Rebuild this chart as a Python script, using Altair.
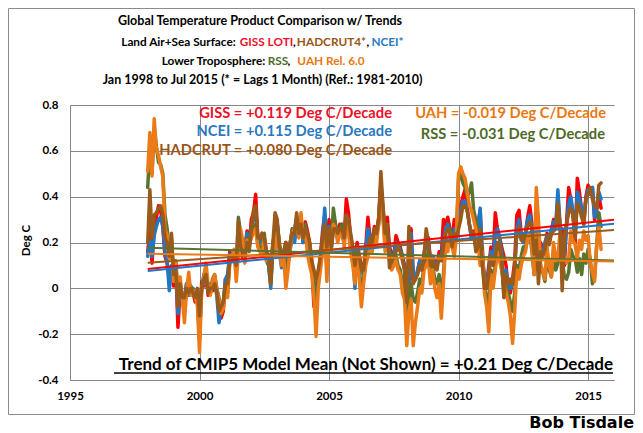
import altair as alt
import pandas as pd

# ---------------- data (monthly anomalies, deg C, ref 1981-2010) ----------------
start_year = 1998
series_names = ["GISS", "NCEI", "HADCRUT", "RSS", "UAH"]
series_colors = ["#FF0000", "#1F77C8", "#9C5A1A", "#587430", "#EB7A17"]
draw_order = ["GISS", "NCEI", "RSS", "UAH", "HADCRUT"]

giss = [
    0.16, 0.25, 0.11, 0.26, 0.31, 0.36, 0.34, 0.27, 0.14, 0.11, 0.04, 0.09,
    0.01, 0.10, -0.17, -0.01, -0.05, -0.05, 0.02, -0.03, -0.01, -0.02, -0.06, -0.03,
    -0.22, 0.03, 0.01, 0.06, -0.03, 0.00, -0.01, 0.02, -0.01, -0.08, -0.13, -0.10,
    0.04, 0.03, 0.16, 0.14, 0.15, 0.11, 0.18, 0.23, 0.13, 0.17, 0.25, 0.19,
    0.30, 0.33, 0.41, 0.22, 0.21, 0.24, 0.22, 0.16, 0.14, 0.06, 0.20, 0.24,
    0.28, 0.19, 0.12, 0.16, 0.20, 0.11, 0.19, 0.26, 0.22, 0.30, 0.25, 0.31,
    0.20, 0.29, 0.25, 0.20, 0.12, -0.08, 0.02, 0.04, 0.14, 0.25, 0.32, 0.18,
    0.30, 0.18, 0.28, 0.27, 0.24, 0.28, 0.25, 0.22, 0.39, 0.33, 0.22, 0.18,
    0.12, 0.20, 0.14, 0.10, 0.06, 0.18, 0.31, 0.22, 0.20, 0.27, 0.24, 0.31,
    0.45, 0.35, 0.22, 0.31, 0.18, 0.15, 0.14, 0.23, 0.20, 0.18, 0.14, 0.10,
    -0.19, 0.00, 0.26, 0.06, 0.04, 0.07, 0.12, 0.08, 0.15, 0.20, 0.22, 0.12,
    0.14, 0.12, 0.10, 0.16, 0.14, 0.30, 0.28, 0.31, 0.26, 0.20, 0.30, 0.24,
    0.30, 0.36, 0.40, 0.43, 0.35, 0.28, 0.22, 0.25, 0.20, 0.28, 0.34, 0.14,
    0.04, 0.02, 0.10, 0.18, 0.12, 0.33, 0.26, 0.22, 0.18, 0.14, 0.10, -0.02,
    -0.02, 0.04, 0.12, 0.32, 0.34, 0.24, 0.20, 0.24, 0.31, 0.36, 0.28, 0.10,
    0.22, 0.18, 0.20, 0.16, 0.18, 0.24, 0.20, 0.25, 0.30, 0.26, 0.40, 0.26,
    0.26, 0.10, 0.28, 0.44, 0.39, 0.32, 0.20, 0.48, 0.42, 0.34, 0.28, 0.40,
    0.45, 0.42, 0.44, 0.30, 0.34, 0.40, 0.35,
]

ncei = [
    0.14, 0.21, 0.14, 0.23, 0.27, 0.30, 0.31, 0.27, 0.16, 0.12, -0.01, 0.10,
    0.04, 0.08, -0.11, 0.00, -0.04, -0.04, 0.02, -0.03, 0.01, -0.02, -0.04, -0.06,
    -0.13, 0.01, 0.02, 0.05, -0.02, 0.02, 0.00, 0.02, -0.03, -0.15, -0.10, -0.06,
    0.04, 0.06, 0.15, 0.14, 0.15, 0.13, 0.18, 0.22, 0.16, 0.17, 0.24, 0.19,
    0.27, 0.30, 0.35, 0.21, 0.20, 0.23, 0.20, 0.12, 0.10, 0.00, 0.18, 0.22,
    0.24, 0.16, 0.09, 0.14, 0.18, 0.12, 0.17, 0.22, 0.20, 0.27, 0.23, 0.28,
    0.20, 0.26, 0.22, 0.18, 0.10, 0.00, -0.02, 0.05, 0.13, 0.22, 0.35, 0.17,
    0.27, 0.17, 0.25, 0.26, 0.22, 0.26, 0.23, 0.20, 0.32, 0.28, 0.20, 0.16,
    0.00, 0.18, 0.12, 0.10, 0.06, 0.16, 0.26, 0.22, 0.20, 0.25, 0.24, 0.28,
    0.42, 0.33, 0.22, 0.26, 0.16, 0.14, 0.14, 0.20, 0.18, 0.17, 0.14, 0.08,
    -0.17, 0.02, 0.24, 0.06, 0.04, 0.08, 0.12, 0.08, 0.14, 0.20, 0.20, 0.12,
    0.14, 0.10, 0.10, 0.14, 0.14, 0.20, 0.26, 0.28, 0.24, 0.20, 0.26, 0.22,
    0.28, 0.34, 0.38, 0.38, 0.34, 0.28, 0.22, 0.24, 0.18, 0.26, 0.35, 0.14,
    0.02, 0.00, 0.08, 0.16, 0.10, 0.24, 0.26, 0.22, 0.16, -0.04, 0.08, 0.02,
    0.00, 0.02, 0.08, 0.26, 0.30, 0.22, 0.20, 0.24, 0.30, 0.32, 0.26, 0.10,
    0.21, 0.14, 0.17, 0.15, 0.20, 0.23, 0.21, 0.26, 0.29, 0.27, 0.43, 0.28,
    0.11, 0.14, 0.27, 0.37, 0.40, 0.33, 0.23, 0.42, 0.39, 0.35, 0.30, 0.39,
    0.43, 0.41, 0.44, 0.31, 0.35, 0.42, 0.39,
]

hadcrut = [
    0.20, 0.43, 0.22, 0.32, 0.33, 0.35, 0.36, 0.32, 0.22, 0.20, 0.14, 0.24,
    0.06, 0.08, -0.08, 0.02, -0.04, -0.04, 0.00, -0.02, 0.00, -0.02, -0.04, 0.00,
    -0.12, 0.00, 0.04, 0.06, -0.02, 0.00, 0.00, 0.02, -0.02, -0.10, -0.08, -0.06,
    0.02, 0.02, 0.12, 0.12, 0.14, 0.10, 0.29, 0.18, 0.16, 0.14, 0.20, 0.16,
    0.26, 0.34, 0.36, 0.22, 0.22, 0.24, 0.22, 0.16, 0.14, 0.02, 0.20, 0.33,
    0.30, 0.18, 0.14, 0.16, 0.20, 0.14, 0.20, 0.24, 0.24, 0.33, 0.24, 0.28,
    0.22, 0.26, 0.24, 0.20, 0.12, 0.08, 0.04, 0.08, 0.14, 0.22, 0.28, 0.18,
    0.26, 0.18, 0.26, 0.26, 0.24, 0.26, 0.26, 0.22, 0.32, 0.30, 0.24, 0.18,
    0.10, 0.18, 0.14, 0.08, 0.08, 0.18, 0.18, 0.22, 0.20, 0.26, 0.24, 0.30,
    0.51, 0.36, 0.24, 0.28, 0.09, 0.14, 0.14, 0.16, 0.18, 0.16, 0.12, 0.08,
    -0.06, 0.27, 0.10, 0.02, 0.04, 0.06, 0.10, 0.08, 0.14, 0.26, 0.20, 0.10,
    0.12, 0.10, 0.08, 0.14, 0.12, 0.18, 0.24, 0.26, 0.24, 0.18, 0.24, 0.22,
    0.26, 0.30, 0.36, 0.36, 0.34, 0.28, 0.24, 0.24, 0.16, 0.18, 0.26, 0.10,
    0.00, 0.00, 0.06, 0.14, 0.10, 0.14, 0.20, 0.20, 0.12, -0.04, 0.06, 0.02,
    0.04, 0.02, 0.10, 0.24, 0.27, 0.21, 0.21, 0.24, 0.27, 0.29, 0.26, 0.15,
    0.21, 0.02, 0.16, 0.14, 0.17, 0.22, 0.19, 0.24, 0.25, 0.26, 0.37, 0.28,
    -0.01, 0.22, 0.28, 0.33, 0.35, 0.32, 0.22, 0.37, 0.35, 0.31, 0.28, 0.39,
    0.41, 0.44, 0.39, 0.36, 0.35, 0.45, 0.46,
]

rss = [
    0.44, 0.62, 0.50, 0.70, 0.62, 0.55, 0.54, 0.50, 0.32, 0.26, 0.16, 0.22,
    0.04, 0.12, -0.02, 0.02, -0.04, -0.10, 0.00, 0.04, -0.02, 0.00, -0.04, -0.06,
    -0.20, 0.00, 0.06, 0.08, 0.00, -0.02, 0.04, 0.06, 0.00, -0.04, -0.10, -0.06,
    0.00, -0.02, 0.12, 0.14, 0.16, 0.08, 0.31, 0.24, 0.18, 0.14, 0.22, 0.18,
    0.24, 0.26, 0.28, 0.20, 0.18, 0.16, 0.24, 0.14, 0.10, 0.02, 0.20, 0.18,
    0.28, 0.20, 0.12, 0.16, 0.06, 0.10, 0.20, 0.26, 0.26, 0.30, 0.24, 0.28,
    0.24, 0.28, 0.18, 0.14, 0.08, 0.02, -0.10, 0.04, 0.10, 0.18, 0.26, 0.10,
    0.26, 0.18, 0.35, 0.28, 0.24, 0.26, 0.28, 0.22, 0.30, 0.26, 0.20, 0.14,
    0.06, 0.18, 0.08, 0.00, 0.04, 0.12, 0.16, 0.20, 0.18, 0.26, 0.22, 0.30,
    0.46, 0.32, 0.20, 0.24, 0.14, 0.10, 0.14, 0.14, 0.10, 0.08, 0.02, 0.00,
    -0.15, -0.04, 0.02, -0.05, -0.06, -0.02, 0.04, 0.02, 0.10, 0.12, 0.16, 0.06,
    0.10, 0.04, 0.02, 0.06, -0.04, 0.06, 0.22, 0.18, 0.26, 0.20, 0.18, 0.24,
    0.48, 0.50, 0.46, 0.44, 0.40, 0.42, 0.46, 0.34, 0.30, 0.24, 0.16, 0.18,
    0.02, -0.04, -0.08, 0.08, 0.04, 0.10, 0.18, 0.14, 0.08, 0.00, 0.02, -0.02,
    -0.06, -0.10, -0.02, 0.10, 0.08, 0.14, 0.18, 0.18, 0.22, 0.24, 0.16, 0.06,
    0.35, 0.24, 0.09, 0.07, 0.03, 0.13, 0.08, 0.05, 0.17, 0.08, 0.11, 0.19,
    0.13, 0.05, 0.04, 0.07, 0.17, 0.14, 0.13, 0.07, 0.13, 0.06, 0.15, 0.11,
    0.17, 0.13, 0.02, 0.05, 0.19, 0.33, 0.27,
]

uah = [
    0.51, 0.68, 0.49, 0.74, 0.61, 0.58, 0.53, 0.49, 0.26, 0.23, 0.13, 0.21,
    0.03, 0.11, -0.05, 0.05, -0.04, -0.15, -0.01, 0.07, -0.03, -0.01, -0.04, -0.07,
    -0.28, -0.01, 0.05, 0.11, 0.01, -0.03, 0.03, 0.06, -0.01, -0.05, -0.11, -0.09,
    -0.01, -0.04, 0.11, 0.13, 0.17, 0.03, 0.15, 0.26, 0.21, 0.11, 0.21, 0.19,
    0.22, 0.24, 0.26, 0.18, 0.16, 0.14, 0.22, 0.12, 0.14, 0.08, 0.20, 0.16,
    0.24, 0.18, 0.10, 0.14, 0.00, 0.08, 0.18, 0.24, 0.26, 0.28, 0.22, 0.33,
    0.22, 0.26, 0.15, 0.10, 0.06, -0.04, -0.21, 0.00, 0.08, 0.16, 0.25, 0.03,
    0.24, 0.16, 0.28, 0.26, 0.20, 0.24, 0.26, 0.18, 0.28, 0.24, 0.16, 0.10,
    0.02, 0.16, 0.04, -0.08, 0.02, 0.10, 0.14, 0.18, 0.16, 0.24, 0.20, 0.28,
    0.44, 0.30, 0.16, 0.22, 0.12, 0.08, 0.10, 0.12, 0.08, 0.06, -0.02, -0.05,
    -0.25, -0.10, -0.05, -0.25, -0.15, -0.08, 0.00, -0.02, 0.08, 0.10, 0.12, 0.02,
    0.08, 0.00, -0.04, 0.02, -0.13, 0.02, 0.20, 0.16, 0.24, 0.18, 0.14, 0.22,
    0.50, 0.53, 0.50, 0.48, 0.42, 0.36, 0.34, 0.30, 0.26, 0.20, 0.10, 0.16,
    -0.02, -0.08, -0.19, 0.06, 0.00, 0.08, 0.16, 0.12, 0.08, 0.04, -0.02, -0.06,
    -0.12, -0.24, -0.10, 0.08, 0.04, 0.10, 0.14, 0.16, 0.22, 0.24, 0.18, 0.06,
    0.44, 0.30, 0.10, 0.08, 0.04, 0.18, 0.10, 0.05, 0.20, 0.12, 0.14, 0.24,
    0.17, 0.13, 0.11, 0.13, 0.25, 0.21, 0.19, 0.13, 0.21, 0.17, 0.25, 0.21,
    0.23, 0.11, 0.07, 0.03, 0.19, 0.27, 0.17,
]

x_ticks = [1995, 2000, 2005, 2010, 2015]
y_ticks = [-0.4, -0.2, 0, 0.2, 0.4, 0.6, 0.8]

# ---------------- table ----------------
values_by_series = {"GISS": giss, "NCEI": ncei, "HADCRUT": hadcrut, "RSS": rss, "UAH": uah}
rows = []
for name, vals in values_by_series.items():
    for i, v in enumerate(vals):
        rows.append({"series": name, "year": start_year + i / 12.0, "value": v})
df = pd.DataFrame(rows)

color_map = dict(zip(series_names, series_colors))

FONT = "Lato"
xenc = alt.X(
    "year:Q",
    title=None,
    scale=alt.Scale(domain=[1995, 2016], nice=False, zero=False),
    axis=alt.Axis(values=x_ticks, format="d", grid=True, ticks=False, tickSize=0,
                  labelPadding=10, labelFont=FONT, labelFontWeight="bold", labelFontSize=11.5,
                  labelColor="black", domainColor="#878787", gridColor="#878787",
                  labelFlush=False),
)
yenc = alt.Y(
    "value:Q",
    title="Deg C",
    scale=alt.Scale(domain=[-0.4, 0.8], nice=False, zero=False),
    axis=alt.Axis(values=y_ticks, grid=True, ticks=False, tickSize=0, labelPadding=12,
                  labelExpr="(datum.value < 0 ? '-' : '') + format(abs(datum.value), '.1~f')",
                  labelFont=FONT, labelFontWeight="bold", labelFontSize=11.5, labelColor="black",
                  domainColor="#878787", gridColor="#878787",
                  titleFont=FONT, titleFontWeight="bold", titleFontSize=11.5, titleColor="black",
                  titleAngle=-90, titleX=-44, titleY=135, titleAlign="center", titleBaseline="middle"),
)

dummy = pd.DataFrame({"k": [0]})

layers = []

frame = alt.Chart(dummy).mark_rect(fill="white", fillOpacity=0, stroke="#8c8c8c", strokeWidth=1).encode(
    x=alt.value(-61.5), x2=alt.value(564.5), y=alt.value(-96.5), y2=alt.value(309.5))
layers.append(frame)

for name in draw_order:
    layers.append(
        alt.Chart(df).transform_filter(alt.datum.series == name)
        .mark_line(color=color_map[name], strokeWidth=3.5, strokeJoin="round", strokeCap="round")
        .encode(x=xenc, y=yenc)
    )

trend = (
    alt.Chart(df)
    .transform_regression("year", "value", groupby=["series"], extent=[1998, 2016])
    .mark_line(strokeWidth=2)
    .encode(x=xenc, y=yenc,
            color=alt.Color("series:N", scale=alt.Scale(domain=series_names, range=series_colors), legend=None))
)
layers.append(trend)


def txt(text, x, y, size, color, align="left", font=FONT, weight="bold"):
    return alt.Chart(dummy).mark_text(text=text, align=align, baseline="middle", font=font,
                                      fontSize=size, fontWeight=weight, color=color).encode(
        x=alt.value(x), y=alt.value(y))


T_RED, T_BROWN, T_BLUE, T_GREEN, T_ORANGE = "#EE1028", "#9A5516", "#2A78C0", "#4F6A28", "#E8780F"
TS = 12.5
TP = 11.8
layers += [
    txt("Global Temperature Product Comparison w/ Trends", 190, -84, TS, "black", align="center"),
    txt("Land Air+Sea Surface:", 108.5, -63, TP, "black", align="center"),
    txt("GISS LOTI", 196.5, -63, TP, T_RED, align="center"),
    txt(",", 223, -63, TP, "black"),
    txt("HADCRUT4*", 261.5, -63, TP, T_BROWN, align="center"),
    txt(",", 296.5, -63, TP, "black"),
    txt("NCEI*", 317.5, -63, TP, T_BLUE, align="center"),
    txt("Lower Troposphere:", 143.5, -44, TP, "black", align="center"),
    txt("RSS", 208, -44, TP, T_GREEN, align="center"),
    txt(",", 217.5, -44, TP, "black"),
    txt("UAH Rel. 6.0", 261, -44, TP, T_ORANGE, align="center"),
    txt("Jan 1998 to Jul 2015 (* = Lags 1 Month) (Ref.: 1981-2010)", 192.5, -25, TS, "black", align="center"),
    txt("GISS = +0.119 Deg C/Decade", 322, 9, 14.7, T_RED, align="right"),
    txt("NCEI = +0.115 Deg C/Decade", 322, 27, 14.7, T_BLUE, align="right"),
    txt("HADCRUT = +0.080 Deg C/Decade", 322, 46, 14.7, T_BROWN, align="right"),
    txt("UAH = -0.019 Deg C/Decade", 536, 9, 14.7, T_ORANGE, align="right"),
    txt("RSS = -0.031 Deg C/Decade", 535, 30, 14.7, T_GREEN, align="right"),
    txt("Trend of CMIP5 Model Mean (Not Shown) = +0.21 Deg C/Decade", 543, 260, 17, "black", align="right"),
    alt.Chart(dummy).mark_rule(color="black", strokeWidth=1.5).encode(
        x=alt.value(44), x2=alt.value(543), y=alt.value(268)),
    txt("Bob Tisdale", 564, 318, 16, "black", align="right", font="DejaVu Sans"),
]

chart = alt.layer(*layers).properties(
    width=544, height=275,
    autosize=alt.AutoSizeParams(type="none"),
    padding={"left": 62, "top": 97, "right": 21, "bottom": 51},
    background="white",
).configure_view(strokeWidth=0)

chart.save("out.html", embed_options={"renderer": "svg", "actions": False})
